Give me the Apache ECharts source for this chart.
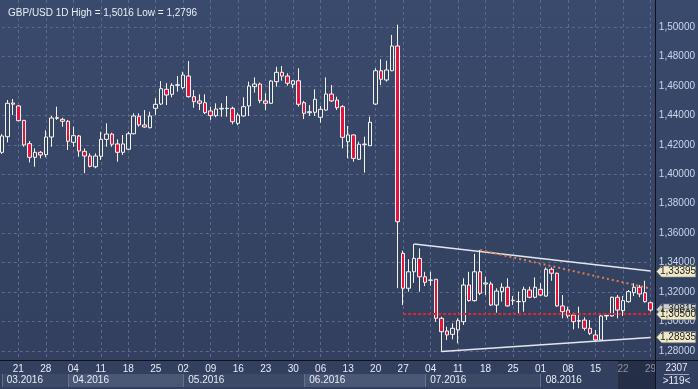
<!DOCTYPE html>
<html><head><meta charset="utf-8">
<script src="https://cdn.jsdelivr.net/npm/echarts@6/dist/echarts.min.js"></script>
<style>html,body{margin:0;padding:0;background:#36456a;}#c{width:698px;height:389px;}</style>
</head><body><div id="c"></div>
<script>
// ---- data ----
const firstDay = '2016-03-16';   // first trading day shown (weekdays only)
const barCount = 119;
const opens = [1.4149,1.4255,1.4484,1.4464,1.4366,1.4208,1.4115,1.4149,1.4133,1.4253,
1.4380,1.4373,1.4360,1.4217,1.4260,1.4156,1.4124,1.4051,1.4122,1.4237,
1.4273,1.4206,1.4149,1.4170,1.4275,1.4394,1.4335,1.4316,1.4448,1.4477,
1.4577,1.4543,1.4604,1.4588,1.4667,1.4527,1.4498,1.4486,1.4430,1.4398,
1.4443,1.4448,1.4448,1.4346,1.4396,1.4464,1.4595,1.4613,1.4498,1.4482,
1.4629,1.4692,1.4667,1.4611,1.4635,1.4486,1.4418,1.4421,1.4387,1.4436,
1.4545,1.4504,1.4459,1.4221,1.4267,1.4102,1.4201,1.4194,1.4477,1.4703,
1.4640,1.4703,1.4871,1.3463,1.3226,1.3338,1.3429,1.3304,1.3282,1.3287,
1.3022,1.2936,1.2913,1.2943,1.2999,1.3248,1.3142,1.3338,1.3255,1.3255,
1.3112,1.3203,1.3233,1.3142,1.3135,1.3135,1.3214,1.3165,1.3219,1.3173,
1.3355,1.3328,1.3106,1.3078,1.3044,1.3006,1.3010,1.2954,1.2909,1.2875,
1.3038,1.3038,1.3165,1.3074,1.3135,1.3196,1.3233,1.3196,1.3128];
const closes = [1.4260,1.4482,1.4476,1.4364,1.4199,1.4115,1.4149,1.4131,1.4253,1.4382,
1.4385,1.4360,1.4224,1.4262,1.4158,1.4124,1.4054,1.4124,1.4237,1.4273,
1.4204,1.4149,1.4206,1.4275,1.4396,1.4335,1.4321,1.4396,1.4475,1.4581,
1.4538,1.4604,1.4608,1.4674,1.4527,1.4493,1.4482,1.4418,1.4398,1.4443,
1.4448,1.4446,1.4357,1.4402,1.4459,1.4599,1.4613,1.4500,1.4482,1.4633,
1.4692,1.4667,1.4618,1.4635,1.4475,1.4414,1.4425,1.4509,1.4441,1.4545,
1.4498,1.4452,1.4251,1.4267,1.4108,1.4204,1.4205,1.4353,1.4703,1.4645,
1.4708,1.4871,1.3678,1.3226,1.3338,1.3429,1.3304,1.3266,1.3280,1.3022,
1.2931,1.2909,1.2954,1.3006,1.3248,1.3142,1.3338,1.3192,1.3262,1.3112,
1.3207,1.3233,1.3106,1.3145,1.3137,1.3219,1.3165,1.3233,1.3180,1.3355,
1.3328,1.3106,1.3067,1.3038,1.2999,1.3003,1.2954,1.2920,1.2875,1.3038,
1.3042,1.3165,1.3078,1.3142,1.3203,1.3233,1.3187,1.3135,1.3078];
const lows = [1.4138,1.4217,1.4402,1.4360,1.4187,1.4081,1.4051,1.4108,1.4115,1.4187,
1.4369,1.4323,1.4165,1.4187,1.4119,1.4007,1.4047,1.4041,1.4097,1.4187,
1.4187,1.4085,1.4131,1.4165,1.4271,1.4323,1.4316,1.4312,1.4402,1.4470,
1.4470,1.4523,1.4561,1.4577,1.4520,1.4452,1.4436,1.4409,1.4369,1.4387,
1.4391,1.4391,1.4339,1.4333,1.4391,1.4396,1.4554,1.4482,1.4436,1.4477,
1.4595,1.4635,1.4601,1.4584,1.4459,1.4375,1.4396,1.4396,1.4350,1.4432,
1.4491,1.4436,1.4176,1.4108,1.4085,1.4097,1.4011,1.4192,1.4470,1.4606,
1.4629,1.4700,1.3226,1.3112,1.3203,1.3262,1.3203,1.3241,1.3243,1.2999,
1.2796,1.2875,1.2879,1.2852,1.2977,1.3135,1.3135,1.3180,1.3180,1.3106,
1.3060,1.3135,1.3101,1.3112,1.3056,1.3067,1.3158,1.3158,1.3173,1.3169,
1.3277,1.3101,1.3022,1.3022,1.2947,1.2954,1.2938,1.2909,1.2862,1.2870,
1.3010,1.3033,1.3022,1.3038,1.3128,1.3173,1.3165,1.3128,1.3067];
const highs = [1.4273,1.4504,1.4511,1.4470,1.4368,1.4226,1.4176,1.4158,1.4299,1.4396,
1.4459,1.4384,1.4369,1.4323,1.4267,1.4176,1.4142,1.4142,1.4289,1.4346,
1.4282,1.4237,1.4267,1.4289,1.4414,1.4414,1.4436,1.4425,1.4516,1.4633,
1.4618,1.4618,1.4667,1.4696,1.4769,1.4572,1.4543,1.4543,1.4459,1.4482,
1.4482,1.4531,1.4459,1.4418,1.4523,1.4629,1.4658,1.4622,1.4550,1.4640,
1.4730,1.4735,1.4686,1.4640,1.4720,1.4498,1.4470,1.4577,1.4464,1.4658,
1.4606,1.4527,1.4470,1.4328,1.4270,1.4221,1.4255,1.4391,1.4720,1.4781,
1.4771,1.4946,1.5016,1.3481,1.3423,1.3527,1.3497,1.3338,1.3338,1.3289,
1.3033,1.2965,1.2988,1.3022,1.3294,1.3338,1.3460,1.3486,1.3304,1.3271,
1.3226,1.3260,1.3294,1.3173,1.3203,1.3237,1.3237,1.3300,1.3260,1.3368,
1.3368,1.3332,1.3180,1.3101,1.3060,1.3101,1.3029,1.3010,1.2943,1.3044,
1.3044,1.3169,1.3180,1.3173,1.3214,1.3260,1.3248,1.3277,1.3135];
// drawn lines: [startIndex, startValue, endIndex, endValue]
const upperTrend = [75, 1.3527, 118, 1.33428];
const lowerTrend = [80, 1.2796, 118, 1.28916];
const dottedTrend = [87, 1.3486, 118, 1.3224];
const supportLevel = [73, 1.3050, 118, 1.3050];
const tagValues = [1.33395, 1.30500, 1.28935];
const lastPrice = 1.30815;
const titleText = 'GBP/USD 1D High = 1,5016 Low = 1,2796';

// ---- categories (weekdays) ----
const categories = [];
(function(){
  const p = firstDay.split('-').map(Number);
  const d = new Date(Date.UTC(p[0], p[1]-1, p[2]));
  while (categories.length < barCount) {
    const w = d.getUTCDay();
    if (w !== 0 && w !== 6) categories.push(d.toISOString().slice(0,10));
    d.setUTCDate(d.getUTCDate()+1);
  }
})();
const isMonday = v => new Date(v + 'T00:00:00Z').getUTCDay() === 1;
const monthStart = (i, v) => i === 0 || v.slice(5,7) !== categories[i-1].slice(5,7);
const fmt5 = v => v.toFixed(5).replace('.', ',');

const BG = '#36466a';
const FONT = 'Liberation Sans, Arial, sans-serif';
const candleData = categories.map((c,i)=>[opens[i], closes[i], lows[i], highs[i]]);
const seg = (a, style) => [{coord:[categories[a[0]], a[1]], lineStyle: style}, {coord:[categories[a[2]], a[3]]}];
const tagPath = 'path://M0,5.5 L5,0 L39,0 L39,11 L5,11 Z';

const chart = echarts.init(document.getElementById('c'), null, {renderer:'canvas'});
chart.setOption({
  animation: false,
  backgroundColor: new echarts.graphic.LinearGradient(0,0,0,1,[{offset:0,color:'#3a4a6c'},{offset:1,color:'#323f5e'}]),
  textStyle: {fontFamily: FONT},
  title: {text: titleText, left: 3, top: 3, textStyle: {color:'#e8eef7', fontSize: 10, fontWeight:'normal', fontFamily: FONT}},
  grid: [
    {left: 1.8, right: 47.3, top: 0, height: 360},
    {left: 1.8, right: 47.3, top: 374, height: 13}
  ],
  xAxis: [
    {type:'category', gridIndex:0, data: categories, boundaryGap:false,
     axisLine:{show:false}, axisTick:{show:false},
     axisLabel:{interval:(i,v)=>isMonday(v), formatter: v=>v.slice(8,10), color:'#e6ecf6', fontSize:10, margin:4},
     splitLine:{show:true, interval:(i,v)=>isMonday(v), lineStyle:{color:'#5a6a8c', type:[3,3], width:1}}},
    {type:'category', gridIndex:1, data: categories, boundaryGap:false, position:'top',
     axisLine:{show:false}, axisTick:{show:false},
     axisLabel:{interval: monthStart, inside:true, formatter: v=>v.slice(5,7)+'.'+v.slice(0,4), color:'#e6ecf6', fontSize:10, margin:1, align:'left', verticalAlign:'top', padding:[0,0,0,5]},
     splitLine:{show:true, interval: monthStart, lineStyle:{color:'#64728e', width:1}},
     splitArea:{show:true, interval: monthStart, areaStyle:{color:['#3c4a67','#4a5875']}}}
  ],
  yAxis: [
    {type:'value', gridIndex:0, position:'right', min:1.27389, max:1.51833, splitNumber:12, offset:4.3,
     axisLine:{show:false}, axisTick:{show:false},
     axisLabel:{showMinLabel:false, showMaxLabel:false, color:'#c8d6ee', fontSize:10, margin:4, align:'left', formatter: fmt5},
     splitLine:{show:true, showMinLine:false, showMaxLine:false, lineStyle:{color:'#5a6a8c', type:[3,3], width:1}}},
    {type:'value', gridIndex:1, show:false}
  ],
  series: [{
    type:'candlestick', xAxisIndex:0, yAxisIndex:0, data: candleData, barWidth: 4,
    itemStyle:{color: BG, color0:'#e3143a', borderColor:'#f4f4f4', borderColor0:'#f4f4f4', borderWidth:1},
    markLine:{silent:true, symbol:['none','none'], label:{show:false}, animation:false,
      data:[
        seg(upperTrend, {color:'#e4e6ee', width:1.5, type:'solid'}),
        seg(lowerTrend, {color:'#e4e6ee', width:1.5, type:'solid'}),
        seg(dottedTrend, {color:'#e27a4e', width:2, type:[2,3]}),
        seg(supportLevel, {color:'#e0262e', width:2, type:[3,2]})
      ]},
    markPoint:{silent:true, animation:false, symbol: tagPath, symbolSize:[39,11], symbolOffset:[25.5,0],
      label:{show:true, position:'inside', color:'#222', fontSize:10, fontFamily:FONT, offset:[2,0], formatter: p=>fmt5(p.value)},
      data: [
        {coord:[categories[barCount-1], lastPrice], value:lastPrice, itemStyle:{color:'#c9ced8', borderColor:'#888', borderWidth:0.5}},
      ].concat(tagValues.map(v=>({coord:[categories[barCount-1], v], value:v, itemStyle:{color:'#eee9c8', borderColor:'#8a8a7a', borderWidth:0.5}})))
    }
  }],
  graphic: [
    {type:'rect', shape:{x:618, y:361, width:37, height:28}, style:{fill:'rgba(20,28,45,0.45)'}, z:50},
    {type:'line', shape:{x1:0, y1:360.5, x2:698, y2:360.5}, style:{stroke:'#101218', lineWidth:1}, z:60},
    {type:'line', shape:{x1:655.5, y1:0, x2:655.5, y2:389}, style:{stroke:'#101218', lineWidth:1}, z:60},
    {type:'line', shape:{x1:664, y1:374.5, x2:689, y2:374.5}, style:{stroke:'#9aa6bc', lineWidth:1}, z:60},
    {type:'text', x:676.5, y:368, style:{text:'2307', fill:'#e6ecf6', font:'10px '+FONT, textAlign:'center', textVerticalAlign:'middle'}, z:60},
    {type:'text', x:676.5, y:381, style:{text:'>119<', fill:'#e6ecf6', font:'10px '+FONT, textAlign:'center', textVerticalAlign:'middle'}, z:60}
  ]
});
</script></body></html>
